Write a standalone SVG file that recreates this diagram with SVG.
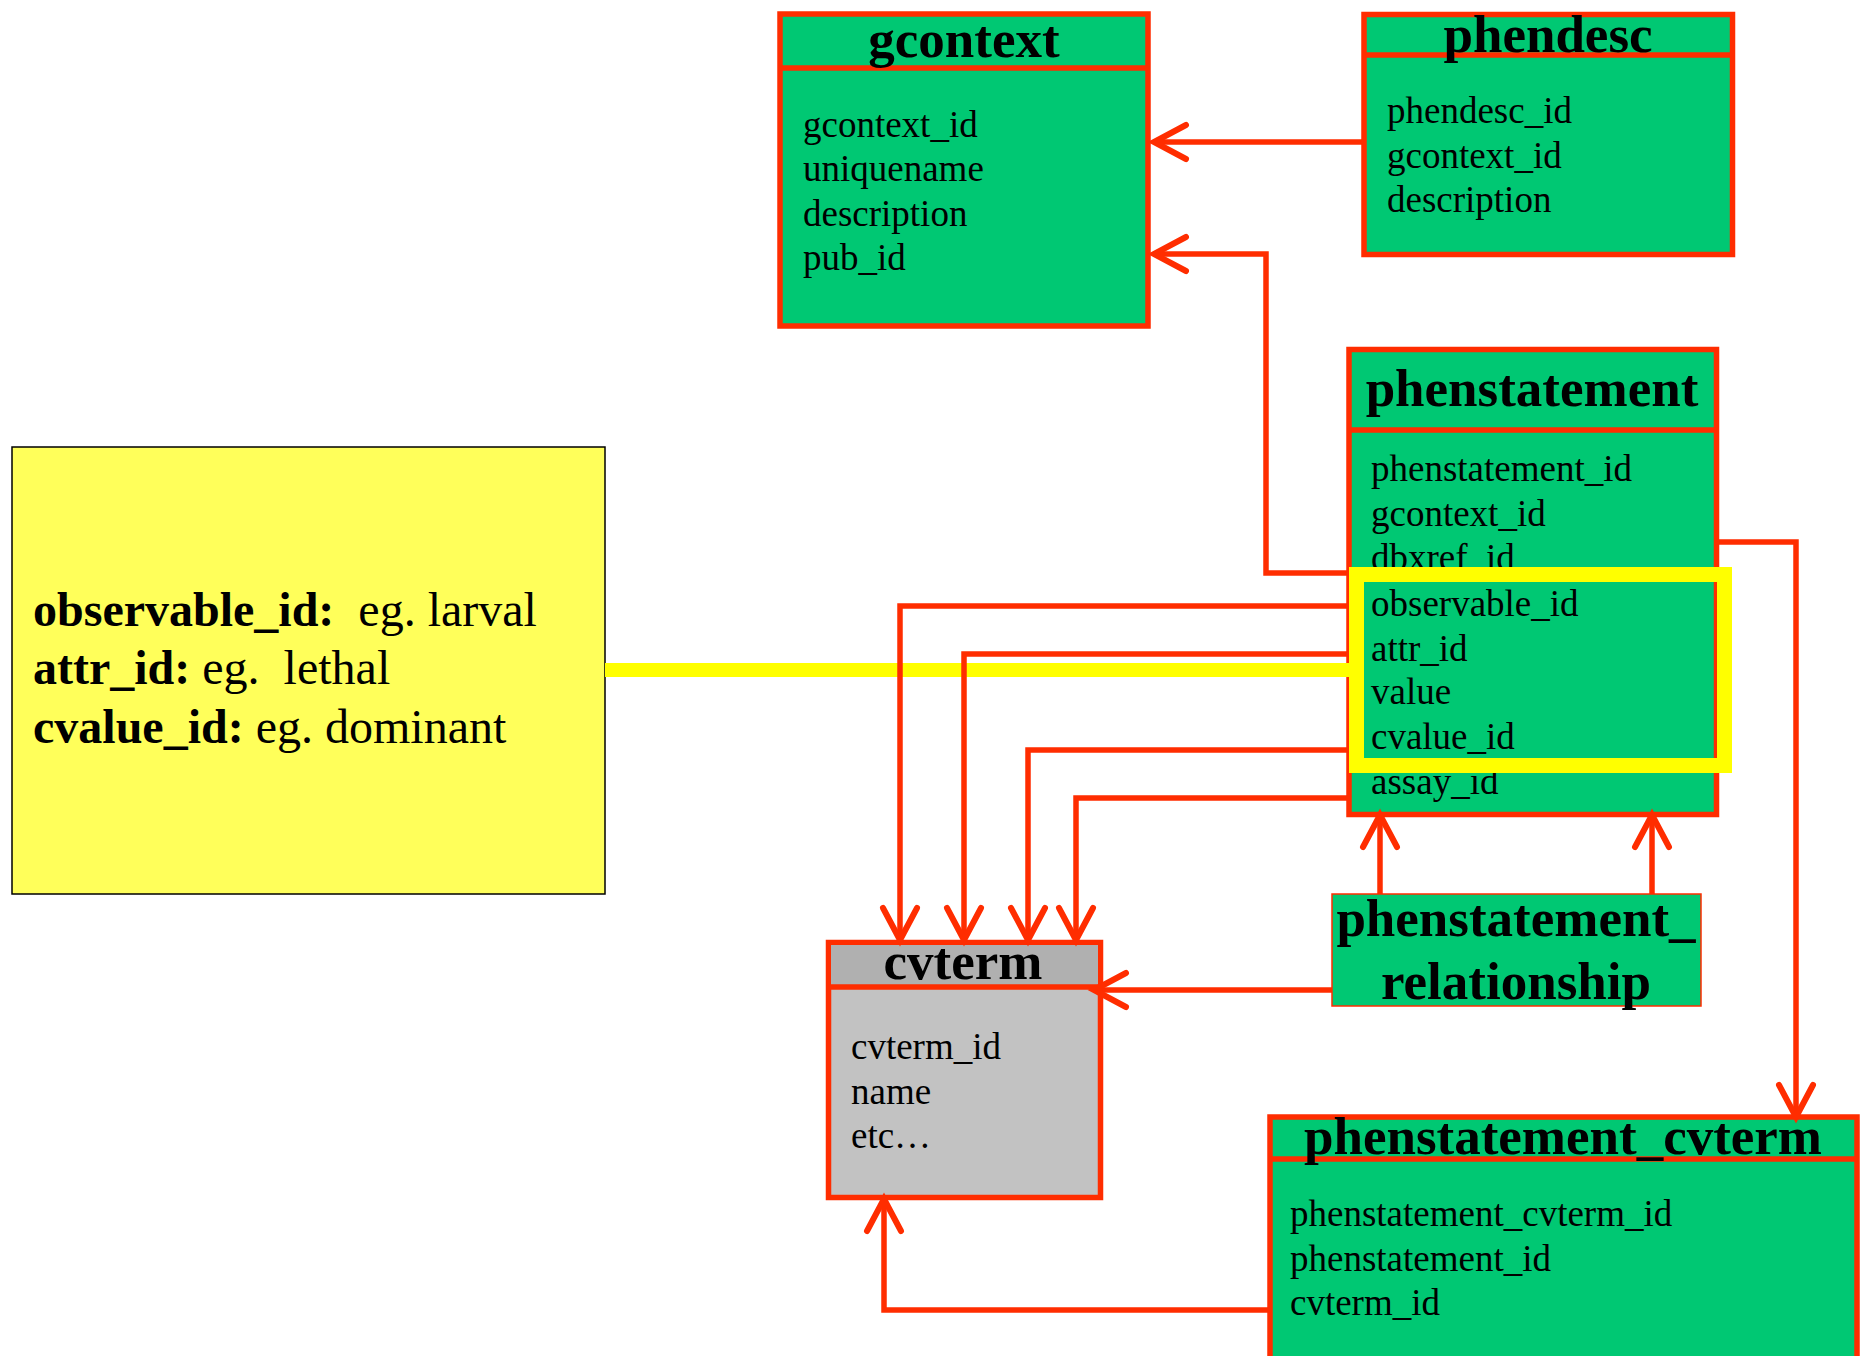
<svg xmlns="http://www.w3.org/2000/svg" width="1860" height="1356" viewBox="0 0 1860 1356">
  <defs>
    <style>
      .tbl { fill: #00C873; stroke: #FF2D00; stroke-width: 5.5; }
      .grey { fill: #C2C2C2; stroke: #FF2D00; stroke-width: 5.5; }
      .greyhead { fill: #B0B0B0; stroke: none; }
      .thin { fill: #00C873; stroke: #FF2D00; stroke-width: 1.5; }
      .div { stroke: #FF2D00; stroke-width: 5.5; fill: none; }
      .title { font-family: "Liberation Serif", "Times New Roman", serif; font-weight: bold; font-size: 53px; text-anchor: middle; fill: #000; }
      .field { font-family: "Liberation Serif", "Times New Roman", serif; font-size: 37px; fill: #000; }
      .note { font-family: "Liberation Serif", "Times New Roman", serif; font-size: 48px; fill: #000; }
      .b { font-weight: bold; }
      .conn { fill: none; stroke: #FF2D00; stroke-width: 5.5; stroke-linejoin: miter; }
      .hl { fill: none; stroke: #FFFF00; }
    </style>
    <marker id="open" viewBox="-36 -20 40 40" refX="0" refY="0" markerWidth="40" markerHeight="40" markerUnits="userSpaceOnUse" orient="auto" overflow="visible">
      <path d="M-32,-17 L0,0 L-32,17" fill="none" stroke="#FF2D00" stroke-width="6" stroke-linecap="round" stroke-linejoin="miter"/>
    </marker>
  </defs>

  <rect width="1860" height="1356" fill="#FFFFFF"/>

  <!-- annotation box -->
  <g id="note">
    <rect x="12" y="447" width="593" height="447" fill="#FFFF5A" stroke="#000" stroke-width="1.5"/>
    <text class="note" xml:space="preserve"><tspan x="33" y="626"><tspan class="b">observable_id:</tspan>  eg. larval</tspan><tspan x="33" y="684"><tspan class="b">attr_id:</tspan> eg.  lethal</tspan><tspan x="33" y="743"><tspan class="b">cvalue_id:</tspan> eg. dominant</tspan></text>
  </g>

  <!-- gcontext table -->
  <g id="gcontext">
    <rect class="tbl" x="780" y="14" width="368" height="312"/>
    <line class="div" x1="780" y1="68" x2="1148" y2="68"/>
    <text class="title" x="964" y="57">gcontext</text>
    <text class="field"><tspan x="803" y="137">gcontext_id</tspan><tspan x="803" y="181">uniquename</tspan><tspan x="803" y="226">description</tspan><tspan x="803" y="270">pub_id</tspan></text>
  </g>

  <!-- phendesc table -->
  <g id="phendesc">
    <rect class="tbl" x="1364" y="14.5" width="368.5" height="240"/>
    <line class="div" x1="1364" y1="55" x2="1732.5" y2="55"/>
    <text class="title" x="1548" y="52">phendesc</text>
    <text class="field"><tspan x="1387" y="123">phendesc_id</tspan><tspan x="1387" y="168">gcontext_id</tspan><tspan x="1387" y="212">description</tspan></text>
  </g>

  <!-- phenstatement table -->
  <g id="phenstatement">
    <rect class="tbl" x="1349" y="349.5" width="367.5" height="465"/>
    <line class="div" x1="1349" y1="430" x2="1716.5" y2="430"/>
    <text class="title" x="1532" y="406">phenstatement</text>
    <text class="field"><tspan x="1371" y="481">phenstatement_id</tspan><tspan x="1371" y="526">gcontext_id</tspan><tspan x="1371" y="570">dbxref_id</tspan><tspan x="1371" y="616">observable_id</tspan><tspan x="1371" y="661">attr_id</tspan><tspan x="1371" y="704">value</tspan><tspan x="1371" y="749">cvalue_id</tspan><tspan x="1371" y="794">assay_id</tspan></text>
  </g>

  <!-- cvterm table -->
  <g id="cvterm">
    <rect class="grey" x="828.5" y="942.5" width="272" height="255"/>
    <rect class="greyhead" x="831" y="945" width="267" height="42"/>
    <line class="div" x1="828.5" y1="987" x2="1100.5" y2="987"/>
    <text class="title" x="963" y="979">cvterm</text>
    <text class="field"><tspan x="851" y="1059">cvterm_id</tspan><tspan x="851" y="1104">name</tspan><tspan x="851" y="1148">etc…</tspan></text>
  </g>

  <!-- phenstatement_relationship table -->
  <g id="phenstatement_relationship">
    <rect class="thin" x="1332" y="894" width="369" height="112"/>
    <text class="title"><tspan x="1516" y="936">phenstatement_</tspan><tspan x="1516" y="999">relationship</tspan></text>
  </g>

  <!-- phenstatement_cvterm table -->
  <g id="phenstatement_cvterm">
    <rect class="tbl" x="1270" y="1117" width="587" height="250"/>
    <line class="div" x1="1270" y1="1159" x2="1857" y2="1159"/>
    <text class="title" x="1563" y="1154">phenstatement_cvterm</text>
    <text class="field"><tspan x="1290" y="1226">phenstatement_cvterm_id</tspan><tspan x="1290" y="1271">phenstatement_id</tspan><tspan x="1290" y="1315">cvterm_id</tspan></text>
  </g>

  <!-- foreign key connectors -->
  <g id="connectors">
    <path class="hl" stroke-width="14" d="M605,670 H1349"/>
    <path class="conn" marker-end="url(#open)" d="M1364,142 H1154"/>
    <path class="conn" marker-end="url(#open)" d="M1349,573 H1266 V254 H1154"/>
    <path class="conn" marker-end="url(#open)" d="M1349,606 H900 V940"/>
    <path class="conn" marker-end="url(#open)" d="M1349,654 H964 V940"/>
    <path class="conn" marker-end="url(#open)" d="M1349,750 H1028 V940"/>
    <path class="conn" marker-end="url(#open)" d="M1349,798 H1076 V940"/>
    <path class="conn" marker-end="url(#open)" d="M1716,542 H1796 V1117"/>
    <path class="conn" marker-end="url(#open)" d="M1380,894 V815"/>
    <path class="conn" marker-end="url(#open)" d="M1652,894 V815"/>
    <path class="conn" marker-end="url(#open)" d="M1332,990 H1094"/>
    <path class="conn" marker-end="url(#open)" d="M1270,1310 H884 V1199"/>
  </g>

  <!-- highlight around the controlled-vocabulary columns -->
  <g id="highlight">
    <rect class="hl" stroke-width="15" x="1356.5" y="574.5" width="368" height="191"/>
  </g>
</svg>
